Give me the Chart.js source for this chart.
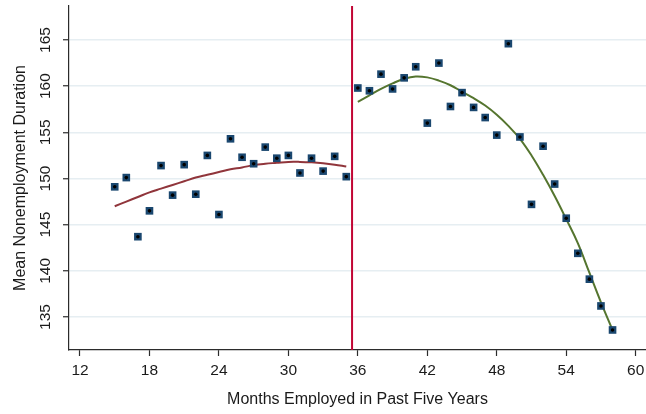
<!DOCTYPE html>
<html>
<head>
<meta charset="utf-8">
<script src="https://cdn.jsdelivr.net/npm/chart.js@4.4.1/dist/chart.umd.min.js"></script>
<style>
  html, body { margin: 0; padding: 0; background: #ffffff; }
  #wrap { width: 646px; height: 414px; position: relative; }
</style>
</head>
<body>
<div id="wrap"><canvas id="chart"></canvas></div>
<script>
// Months employed in the past five years, below and above the cutoff
const monthsLow  = [15,16,17,18,19,20,21,22,23,24,25,26,27,28,29,30,31,32,33,34,35];
const monthsHigh = [36,37,38,39,40,41,42,43,44,45,46,47,48,49,50,51,52,53,54,55,56,57,58];

// Mean nonemployment duration by month bin
const durationLow  = [149.1,150.1,143.7,146.5,151.4,148.2,151.5,148.3,152.5,146.1,154.3,
                      152.3,151.6,153.4,152.2,152.5,150.6,152.2,150.8,152.4,150.2];
const durationHigh = [159.8,159.5,161.3,159.7,160.9,162.1,156.0,162.5,157.8,159.3,157.7,
                      156.6,154.7,164.6,154.5,147.2,153.5,149.4,145.7,141.9,139.1,136.2,133.6];

// Fitted polynomial on each side of the cutoff
const fitLow  = [147.0,147.5,148.0,148.5,148.9,149.3,149.7,150.1,150.4,150.7,151.0,
                 151.2,151.45,151.6,151.7,151.8,151.8,151.75,151.65,151.5,151.3];
const fitHigh = [158.3,159.0,159.7,160.3,160.8,161.05,160.95,160.6,160.1,159.4,158.7,
                 157.9,156.9,155.7,154.3,152.5,150.4,148.1,145.6,143.0,139.8,136.6,133.6];

// Eligibility cutoff and axis ticks
const cutoff = 35.5;
const xTicks = [12,18,24,30,36,42,48,54,60];
const yTicks = [135,140,145,150,155,160,165];

const X_MIN = 11.05, X_MAX = 60.89;
const Y_MIN = 131.43, Y_MAX = 168.68;

const FONT = '"Liberation Sans", Arial, sans-serif';
const TEXT = '#1a1a1a';
const AXIS = '#2b2b2b';
const NAVY = '#1a476f';

const pts = (xs, ys) => xs.map((x, i) => ({ x: x, y: ys[i] }));

// Vertical tick labels on the y axis
const yLabelPlugin = {
  id: 'yLabels',
  afterDraw(chart) {
    const ctx = chart.ctx;
    const ys = chart.scales.y;
    ctx.save();
    ctx.fillStyle = TEXT;
    ctx.font = '15.5px ' + FONT;
    ctx.textAlign = 'center';
    ctx.textBaseline = 'middle';
    yTicks.forEach(v => {
      const py = ys.getPixelForValue(v);
      ctx.save();
      ctx.translate(46, py);
      ctx.rotate(-Math.PI / 2);
      ctx.fillText(String(v), 0, 0);
      ctx.restore();
    });
    ctx.restore();
  }
};

new Chart(document.getElementById('chart'), {
  type: 'scatter',
  data: {
    datasets: [
      {
        type: 'line',
        data: [{ x: cutoff, y: Y_MIN }, { x: cutoff, y: Y_MAX }],
        borderColor: '#c10534',
        borderWidth: 2,
        pointRadius: 0,
        order: 5
      },
      {
        type: 'line',
        data: pts(monthsLow, fitLow),
        borderColor: '#90353b',
        borderWidth: 2,
        pointRadius: 0,
        tension: 0.4,
        order: 4
      },
      {
        type: 'line',
        data: pts(monthsHigh, fitHigh),
        borderColor: '#55752f',
        borderWidth: 2,
        pointRadius: 0,
        tension: 0.4,
        order: 4
      },
      {
        data: pts(monthsLow.concat(monthsHigh), durationLow.concat(durationHigh)),
        pointStyle: 'rect',
        pointRadius: 5.4,
        backgroundColor: NAVY,
        borderColor: NAVY,
        borderWidth: 0,
        order: 2
      },
      {
        data: pts(monthsLow.concat(monthsHigh), durationLow.concat(durationHigh)),
        pointStyle: 'circle',
        pointRadius: 1.8,
        backgroundColor: '#000000',
        borderWidth: 0,
        order: 1
      }
    ]
  },
  options: {
    responsive: true,
    maintainAspectRatio: false,
    animation: false,
    events: [],
    layout: { autoPadding: false, padding: { top: 6, right: 0, left: 0, bottom: 0 } },
    plugins: {
      legend: { display: false },
      tooltip: { enabled: false }
    },
    scales: {
      x: {
        type: 'linear',
        min: X_MIN,
        max: X_MAX,
        afterBuildTicks: s => { s.ticks = xTicks.map(v => ({ value: v })); },
        afterFit: s => { s.height = 64; s.paddingLeft = 0; s.paddingRight = 0; },
        grid: {
          drawOnChartArea: false,
          drawTicks: true,
          tickLength: 6,
          tickColor: AXIS,
          tickWidth: 1.2
        },
        border: { display: true, color: AXIS, width: 1.2 },
        ticks: {
          color: TEXT,
          font: { family: FONT, size: 15.5 },
          padding: 5,
          maxRotation: 0,
          autoSkip: false
        },
        title: {
          display: true,
          text: 'Months Employed in Past Five Years',
          color: TEXT,
          font: { family: FONT, size: 16 },
          padding: { top: 0, bottom: 5 }
        }
      },
      y: {
        type: 'linear',
        min: Y_MIN,
        max: Y_MAX,
        afterBuildTicks: s => { s.ticks = yTicks.map(v => ({ value: v })); },
        afterFit: s => { s.width = 69; },
        grid: {
          color: '#e6eef2',
          lineWidth: 1.5,
          drawTicks: true,
          tickLength: 6,
          tickColor: AXIS,
          tickWidth: 1.2
        },
        border: { display: true, color: AXIS, width: 1.2 },
        ticks: { display: false },
        title: {
          display: true,
          text: 'Mean Nonemployment Duration',
          color: TEXT,
          font: { family: FONT, size: 16 },
          padding: { top: 11, bottom: 0 }
        }
      }
    }
  },
  plugins: [yLabelPlugin]
});
</script>
</body>
</html>
